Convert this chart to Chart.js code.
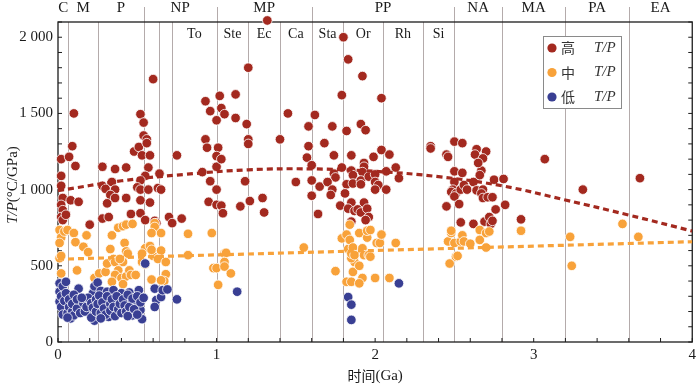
<!DOCTYPE html>
<html>
<head>
<meta charset="utf-8">
<script src="https://cdn.jsdelivr.net/npm/chart.js@4.4.1/dist/chart.umd.min.js"></script>
<style>
  html, body { margin: 0; padding: 0; background: #fff; }
  #wrap { width: 700px; height: 384px; }
</style>
</head>
<body>
<div id="wrap"><canvas id="chart" width="700" height="384"></canvas></div>
<script>
// time (Ga), T/P (°C/GPa)
const highTP = [
  [0.02,1200],[0.02,1090],[0.02,1025],[0.07,1215],[0.10,1500],[0.09,1285],[0.11,1155],[0.03,945],[0.08,930],[0.13,920],
  [0.28,1150],[0.36,1135],[0.43,1145],[0.28,1025],[0.30,1005],[0.34,1050],[0.36,1000],[0.33,965],[0.31,910],[0.36,945],[0.43,945],
  [0.48,1250],[0.51,1280],[0.52,1495],[0.54,1440],[0.54,1355],[0.56,1330],[0.56,1305],[0.53,1225],[0.58,1225],[0.57,1145],
  [0.55,1090],[0.52,1060],[0.50,1015],[0.52,1000],[0.57,1000],[0.52,930],[0.58,915],[0.60,1725],[0.64,1105],[0.63,1010],
  [0.65,1000],[0.75,1225],[0.93,1580],[0.93,1330],[0.94,1275],[0.96,1515],[0.96,1055],[0.95,920],[0.91,1115],[1.00,1455],
  [1.01,1275],[1.00,1220],[1.00,1150],[1.00,1000],[1.00,900],[1.02,1615],[1.03,1535],[1.05,1495],[1.03,1200],[1.03,895],
  [1.12,1625],[1.12,1470],[0.02,900],[0.03,865],[0.02,820],[0.03,800],[0.05,835],[0.20,770],[0.28,810],[0.32,820],
  [0.46,840],[0.52,845],[0.55,800],[0.61,795],[0.62,780],[0.70,820],[0.72,780],[0.78,810],[1.04,845],
  [1.20,1800],[1.19,1430],[1.20,1330],[1.20,1300],[1.18,1055],[1.21,925],[1.15,890],[1.29,945],[1.40,1330],[1.45,1500],
  [1.50,1050],[1.58,1415],[1.58,1285],[1.57,1210],[1.60,1160],[1.62,1490],[1.68,1305],[1.60,1060],[1.65,1020],[1.60,960],
  [1.73,1415],[1.74,1225],[1.74,1105],[1.75,1080],[1.70,1050],[1.73,1000],[1.72,965],[1.80,2000],[1.79,1620],[1.83,1855],
  [1.82,1385],[1.85,1225],[1.79,1145],[1.85,1125],[1.86,1095],[1.82,1035],[1.86,1040],[1.81,975],[1.78,895],[1.85,915],
  [1.92,1745],[1.91,1430],[1.94,1390],[1.93,1175],[1.93,1150],[1.92,1115],[1.91,1060],[1.91,1035],[1.96,1085],[2.00,1100],
  [2.00,1050],[2.02,1030],[2.00,1000],[1.99,1215],[2.04,1600],[2.04,1260],[2.09,1230],[2.07,1120],[2.13,1145],[2.15,1075],
  [2.07,1000],[1.93,915],[2.35,1285],[2.35,1270],[2.45,1230],[2.46,1215],[2.50,1315],[2.55,1305],[2.50,1120],[2.55,1110],
  [2.50,1050],[2.49,1000],[2.48,985],[2.51,975],[2.50,955],[2.54,1000],[2.45,890],[2.53,905],
  [1.30,850],[1.64,840],[1.83,875],[1.87,860],[1.89,870],[1.91,850],[1.95,875],[1.96,820],[1.94,800],[1.85,790],[2.54,785],
  [2.64,1265],[2.63,1230],[2.70,1250],[2.68,1205],[2.67,1125],[2.66,1095],[2.62,1050],[2.56,1030],[2.58,1000],[2.64,995],
  [2.68,1000],[2.67,975],[2.68,945],[2.71,950],[2.74,950],[2.75,1065],[2.81,1070],[2.76,870],[2.82,900],[2.62,775],
  [2.69,790],[2.72,820],[2.73,775],[2.74,795],[2.92,805],[3.07,1200],[3.31,1000],[3.67,1075],[2.65,1175],[1.32,2110]
];
const midTP = [
  [0.01,735],[0.02,685],[0.01,650],[0.01,550],[0.02,565],[0.02,450],[0.04,725],[0.06,735],[0.10,715],[0.11,655],
  [0.12,470],[0.18,700],[0.16,625],[0.19,590],[0.23,420],[0.26,450],[0.30,460],[0.31,515],[0.34,700],[0.33,610],
  [0.35,545],[0.36,525],[0.38,750],[0.41,760],[0.43,770],[0.42,650],[0.43,595],[0.44,580],[0.41,525],[0.39,545],
  [0.38,470],[0.36,440],[0.34,395],[0.40,420],[0.43,430],[0.45,470],[0.46,440],[0.49,440],[0.47,775],[0.55,615],
  [0.58,630],[0.53,580],[0.53,525],[0.55,510],[0.60,565],[0.59,605],[0.61,780],[0.61,755],[0.59,715],[0.65,715],
  [0.65,600],[0.63,545],[0.68,525],[0.68,445],[0.67,400],[0.59,410],[0.65,405],[0.82,710],[0.82,570],[0.97,715],
  [0.98,485],[1.00,485],[1.01,375],[1.05,580],[1.06,585],[1.05,525],[1.05,495],[1.09,450],[0.41,380],
  [1.55,620],[1.75,465],[1.79,680],[1.82,705],[1.83,610],[1.84,670],[1.82,395],[1.85,395],[1.86,460],[1.87,525],
  [1.85,550],[1.85,580],[1.86,620],[1.87,570],[1.90,715],[1.90,500],[1.92,420],[1.90,385],[1.92,615],[1.93,570],
  [1.95,685],[1.95,730],[1.97,735],[1.96,570],[1.97,560],[2.00,420],[2.01,650],[2.03,650],[2.04,705],[2.09,420],
  [2.13,650],[1.84,770],[2.47,515],[2.46,660],[2.48,715],[2.51,560],[2.50,650],[2.54,660],[2.55,700],[2.48,730],
  [2.56,660],[2.60,645],[2.66,735],[2.66,670],[2.70,715],[2.72,725],[2.70,620],[2.52,565],[2.92,730],[3.23,690],
  [3.24,500],[3.56,775],[3.66,690]
];
const lowTP = [
  [0.01,385],[0.01,330],[0.01,265],[0.03,365],[0.05,395],[0.08,155],[0.04,210],[0.06,255],[0.08,295],[0.11,255],
  [0.13,350],[0.15,220],[0.20,190],[0.22,320],[0.23,365],[0.25,390],[0.23,140],[0.26,230],[0.27,335],[0.30,275],
  [0.31,330],[0.32,165],[0.35,340],[0.37,190],[0.38,265],[0.40,320],[0.44,275],[0.45,325],[0.46,190],[0.49,255],
  [0.51,340],[0.52,210],[0.53,150],[0.55,515],[0.61,350],[0.62,275],[0.61,230],[0.65,295],[0.66,340],[0.69,345],
  [0.75,280],[1.13,330],[1.83,295],[1.85,245],[1.85,145],[2.15,385],
  [0.02,300],[0.02,230],[0.03,180],[0.04,270],[0.05,320],[0.06,190],[0.07,230],[0.07,280],[0.09,200],[0.09,250],
  [0.10,175],[0.10,310],[0.12,220],[0.12,280],[0.14,190],[0.16,255],[0.17,200],[0.18,230],[0.19,290],[0.21,255],
  [0.21,160],[0.22,225],[0.24,280],[0.24,200],[0.25,250],[0.26,305],[0.27,190],[0.28,260],[0.29,220],[0.30,180],
  [0.31,300],[0.33,250],[0.33,205],[0.34,280],[0.35,230],[0.36,170],[0.37,300],[0.38,215],[0.39,250],[0.40,190],
  [0.41,280],[0.42,240],[0.43,200],[0.44,310],[0.45,230],[0.47,285],[0.47,175],[0.48,215],[0.50,300],[0.50,180],
  [0.52,260],[0.54,290],[0.44,170],[0.27,155],[0.15,290],[0.06,160]
];
// dashed trend lines
const highTrend = [[0,993],[0.4,1058],[0.8,1100],[1.2,1130],[1.6,1136],[2.0,1120],[2.4,1085],[2.8,1025],[3.2,932],[3.6,833],[4.0,728]];
const midTrend = [[0,543],[4,658]];

const seriesNames = ['高', '中', '低'];
const seriesColors = ['#a3291f', '#f8a23a', '#393f93'];

const eraBounds = [0, 0.066, 0.252, 0.541, 1.0, 1.6, 2.5, 2.8, 3.2, 3.6, 4.0];
const eraNames = ['C', 'M', 'P', 'NP', 'MP', 'PP', 'NA', 'MA', 'PA', 'EA'];
const eraTopLines = [0.541, 1.0, 1.6, 2.5, 2.8, 3.2, 3.6];
const periodBounds = [0.72, 1.0, 1.2, 1.4, 1.6, 1.8, 2.05, 2.3, 2.5];
const periodNames = ['To', 'Ste', 'Ec', 'Ca', 'Sta', 'Or', 'Rh', 'Si'];
const boundaryLines = [0.066, 0.252, 0.541, 0.635, 0.72, 1.0, 1.2, 1.4, 1.6, 1.8, 2.05, 2.3, 2.5, 2.8, 3.2, 3.6];

const serif = '"Liberation Serif", "DejaVu Serif", serif';
const cjk = '"Noto Sans CJK SC", sans-serif';

function toXY(arr) {
    return arr.map(p => ({ x: p[0], y: p[1] }));
}

function fmtThousands(v) {
    const s = String(Math.round(v));
    return s.length > 3 ? s.slice(0, -3) + ' ' + s.slice(-3) : s;
}

function line(ctx, x1, y1, x2, y2) {
    ctx.beginPath();
    ctx.moveTo(x1, y1);
    ctx.lineTo(x2, y2);
    ctx.stroke();
}

const decor = {
    id: 'decor',
    beforeDatasetsDraw(chart) {
        const { ctx, chartArea: a, scales: { x, y } } = chart;
        ctx.save();
        // era / period boundaries
        ctx.strokeStyle = '#b4abab';
        ctx.lineWidth = 1;
        boundaryLines.forEach(v => {
            const px = Math.round(x.getPixelForValue(v)) + 0.5;
            line(ctx, px, a.top, px, a.bottom);
        });
        eraTopLines.forEach(v => {
            const px = Math.round(x.getPixelForValue(v)) + 0.5;
            line(ctx, px, 7, px, a.top);
        });
        // frame
        ctx.strokeStyle = '#1c1c1c';
        ctx.lineWidth = 1.3;
        ctx.strokeRect(a.left, a.top, a.width, a.height);
        // inward ticks
        ctx.lineWidth = 1;
        x.ticks.forEach(t => {
            const px = x.getPixelForValue(t.value);
            line(ctx, px, a.bottom, px, a.bottom - 4);
        });
        y.ticks.forEach(t => {
            const py = y.getPixelForValue(t.value);
            line(ctx, a.left, py, a.left + 4, py);
            line(ctx, a.right, py, a.right - 4, py);
        });
        // era names above the frame
        ctx.fillStyle = '#1a1a1a';
        ctx.textAlign = 'center';
        ctx.textBaseline = 'middle';
        ctx.font = '15px ' + serif;
        eraNames.forEach((n, i) => {
            const px = x.getPixelForValue((eraBounds[i] + eraBounds[i + 1]) / 2);
            ctx.fillText(n, px, 8);
        });
        // period names inside the frame
        ctx.font = '14px ' + serif;
        periodNames.forEach((n, i) => {
            const px = x.getPixelForValue((periodBounds[i] + periodBounds[i + 1]) / 2);
            ctx.fillText(n, px, 34);
        });
        ctx.restore();
    },
    afterDraw(chart) {
        const { ctx, chartArea: a, scales: { x } } = chart;
        ctx.save();
        ctx.fillStyle = '#1a1a1a';
        ctx.textBaseline = 'middle';
        // y title, rotated
        ctx.translate(13, 185);
        ctx.rotate(-Math.PI / 2);
        const italic = 'italic 15px ' + serif;
        const plain = '15px ' + serif;
        ctx.font = italic;
        const w1 = ctx.measureText('T/P').width;
        ctx.font = plain;
        const w2 = ctx.measureText('(°C/GPa)').width;
        let sx = -(w1 + w2) / 2;
        ctx.textAlign = 'left';
        ctx.font = italic;
        ctx.fillText('T/P', sx, 0);
        ctx.font = plain;
        ctx.fillText('(°C/GPa)', sx + w1, 0);
        ctx.setTransform(1, 0, 0, 1, 0, 0);
        // x title
        ctx.font = '14px ' + cjk;
        const c1 = ctx.measureText('时间').width;
        ctx.font = '15px ' + serif;
        const c2 = ctx.measureText('(Ga)').width;
        sx = x.getPixelForValue(2) - (c1 + c2) / 2;
        ctx.font = '14px ' + cjk;
        ctx.fillText('时间', sx, 376);
        ctx.font = '15px ' + serif;
        ctx.fillText('(Ga)', sx + c1, 376);
        // legend
        ctx.fillStyle = '#fff';
        ctx.fillRect(543.5, 36.5, 78, 72);
        ctx.strokeStyle = '#8a8a8a';
        ctx.lineWidth = 1;
        ctx.strokeRect(543.5, 36.5, 78, 72);
        seriesNames.forEach((n, i) => {
            const yy = 48 + i * 24.5;
            ctx.beginPath();
            ctx.arc(552, yy, 4.6, 0, Math.PI * 2);
            ctx.fillStyle = seriesColors[i];
            ctx.fill();
            ctx.fillStyle = '#333';
            ctx.textAlign = 'center';
            ctx.font = '14px ' + cjk;
            ctx.fillText(n, 568, yy);
            ctx.textAlign = 'left';
            ctx.font = italic;
            ctx.fillText('T/P', 594, yy);
        });
        ctx.restore();
    }
};

const pointStyle = (i) => ({
    type: 'scatter',
    backgroundColor: seriesColors[i],
    borderColor: '#ffffff',
    borderWidth: 0.8,
    pointRadius: 4.8,
    clip: false
});

new Chart(document.getElementById('chart'), {
    type: 'scatter',
    data: {
        datasets: [
            {
                type: 'line',
                label: '高 T/P trend',
                data: toXY(highTrend),
                borderColor: seriesColors[0],
                borderWidth: 3.2,
                borderDash: [6, 4],
                pointRadius: 0,
                tension: 0.4,
                fill: false
            },
            {
                type: 'line',
                label: '中 T/P trend',
                data: toXY(midTrend),
                borderColor: seriesColors[1],
                borderWidth: 3.2,
                borderDash: [6, 4],
                pointRadius: 0,
                fill: false
            },
            Object.assign({ label: '低 T/P', data: toXY(lowTP) }, pointStyle(2)),
            Object.assign({ label: '中 T/P', data: toXY(midTP) }, pointStyle(1)),
            Object.assign({ label: '高 T/P', data: toXY(highTP) }, pointStyle(0))
        ]
    },
    options: {
        responsive: false,
        animation: false,
        events: [],
        layout: { padding: { top: 22, right: 1.5, left: 0, bottom: 0 } },
        plugins: { legend: { display: false }, tooltip: { enabled: false } },
        scales: {
            x: {
                type: 'linear',
                min: 0,
                max: 4,
                grid: { display: false, drawTicks: false },
                border: { display: false },
                ticks: {
                    stepSize: 0.2,
                    padding: 4,
                    color: '#1a1a1a',
                    font: { family: serif, size: 15 },
                    maxRotation: 0,
                    autoSkip: false,
                    callback: v => Math.abs(v - Math.round(v)) < 1e-6 ? String(Math.round(v)) : ''
                },
                afterFit: s => { s.height = 42; }
            },
            y: {
                type: 'linear',
                min: 0,
                max: 2100,
                grid: { display: false, drawTicks: false },
                border: { display: false },
                ticks: {
                    stepSize: 100,
                    padding: 5,
                    color: '#1a1a1a',
                    font: { family: serif, size: 15 },
                    autoSkip: false,
                    callback: v => v % 500 === 0 ? fmtThousands(v) : ''
                },
                afterFit: s => { s.width = 58; }
            }
        }
    },
    plugins: [decor]
});
</script>
</body>
</html>
